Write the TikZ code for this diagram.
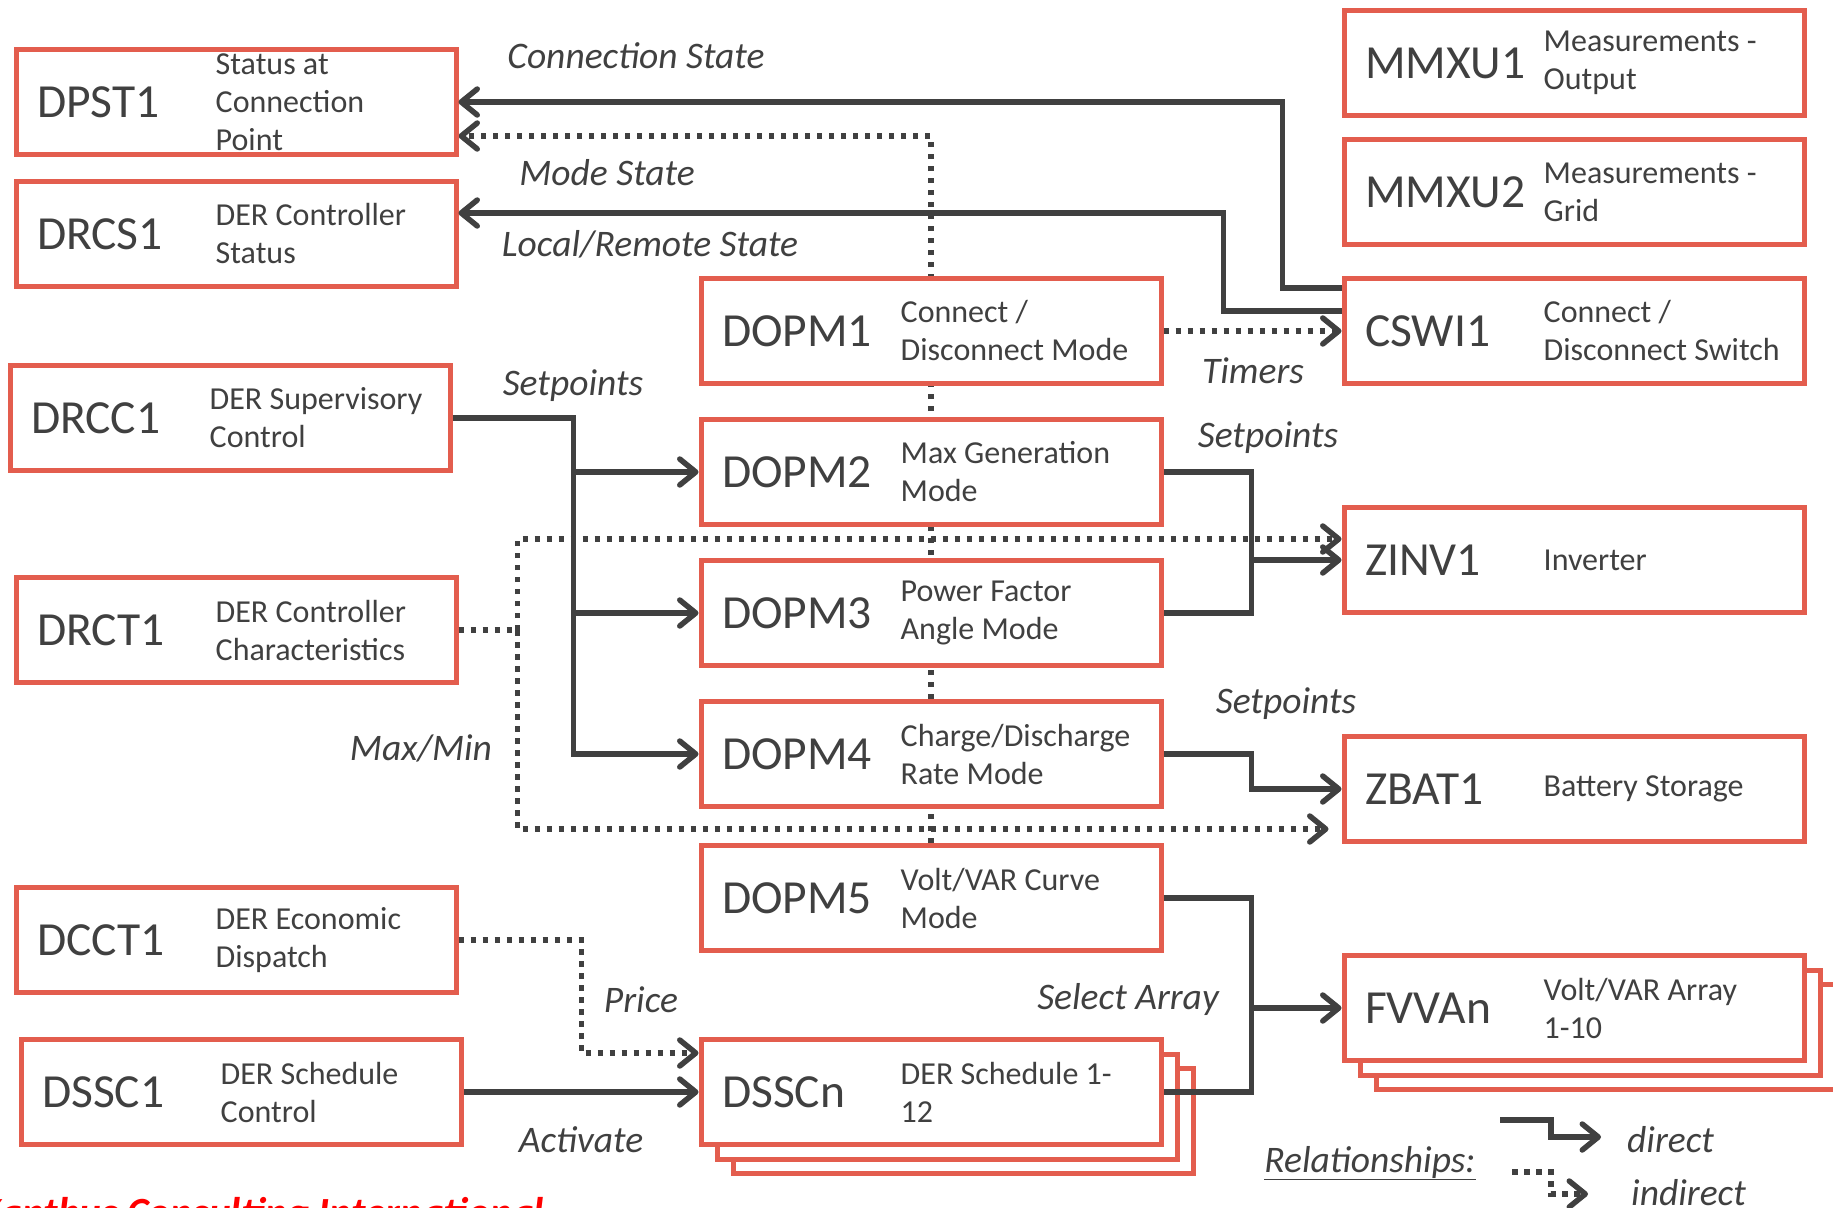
\documentclass[tikz,border=0pt]{standalone}
\usepackage{fontspec}
\setmainfont{Carlito}
\usetikzlibrary{arrows.meta,backgrounds,positioning}
\definecolor{lnred}{HTML}{E35D4E}
\definecolor{lngray}{HTML}{404040}

\begin{document}
\begin{tikzpicture}[x=1pt, y=-1pt,
			lnbox/.style={draw=lnred, line width=5pt, fill=white, minimum height=105pt,
					text width=#1, inner xsep=21pt, inner ysep=0pt, align=left, text=lngray,
					font=\fontsize{47.5pt}{56pt}\selectfont},
			lnbox/.default=398pt,
			desc/.style={anchor=west, inner sep=0pt, align=left, text=lngray,
					font=\fontsize{32pt}{38pt}\selectfont},
			lbl/.style={inner sep=0pt, text=lngray, text height=24pt, text depth=0pt,
					font=\fontsize{37.5pt}{44pt}\selectfont\itshape},
			direct/.style={draw=lngray, line width=5.5pt},
			indirect/.style={direct, dash pattern=on 5.5pt off 6.5pt},
			>={Straight Barb[length=16pt, width=26pt, round]}]
		\useasboundingbox (0,0) rectangle (1833,1207);

		% left column
		\node (dpst) [lnbox] at (236,102) {DPST1};
		\node [desc] at ([xshift=202pt]dpst.west) {Status at\\Connection\\Point};
		\node (drcs) [lnbox, below=22pt of dpst] {DRCS1};
		\node [desc] at ([xshift=202pt]drcs.west) {DER Controller\\Status};
		\node (drcc) [lnbox] at (230,418) {DRCC1};
		\node [desc] at ([xshift=202pt]drcc.west) {DER Supervisory\\Control};
		\node (drct) [lnbox] at (236,630) {DRCT1};
		\node [desc] at ([xshift=202pt]drct.west) {DER Controller\\Characteristics};
		\node (dcct) [lnbox] at (236,940) {DCCT1};
		\node [desc] at ([xshift=202pt]dcct.west) {DER Economic\\Dispatch};
		\node (dssc) [lnbox] at (241,1092) {DSSC1};
		\node [desc] at ([xshift=202pt]dssc.west) {DER Schedule\\Control};

		% middle column
		\node (dopm1) [lnbox=418pt] at (931,331) {DOPM1};
		\node [desc] at ([xshift=202pt]dopm1.west) {Connect /\\Disconnect Mode};
		\node (dopm2) [lnbox=418pt, below=31pt of dopm1] {DOPM2};
		\node [desc] at ([xshift=202pt]dopm2.west) {Max Generation\\Mode};
		\node (dopm3) [lnbox=418pt, below=31pt of dopm2] {DOPM3};
		\node [desc] at ([xshift=202pt]dopm3.west) {Power Factor\\Angle Mode};
		\node (dopm4) [lnbox=418pt, below=31pt of dopm3] {DOPM4};
		\node [desc] at ([xshift=202pt]dopm4.west) {Charge/Discharge\\Rate Mode};
		\node (dopm5) [lnbox=418pt, below=34pt of dopm4] {DOPM5};
		\node [desc] at ([xshift=202pt]dopm5.west) {Volt/VAR Curve\\Mode};
		\node (dsscnc) [lnbox=418pt] at (963,1121) {};
		\node (dsscnb) [lnbox=418pt] at (947,1107) {};
		\node (dsscn) [lnbox=418pt] at (931,1092) {DSSCn};
		\node [desc] at ([xshift=202pt]dsscn.west) {DER Schedule 1-\\12};

		% right column
		\node (mmxu1) [lnbox=418pt] at (1574,63) {MMXU1};
		\node [desc] at ([xshift=202pt]mmxu1.west) {Measurements -\\Output};
		\node (mmxu2) [lnbox=418pt, below=19pt of mmxu1] {MMXU2};
		\node [desc] at ([xshift=202pt]mmxu2.west) {Measurements -\\Grid};
		\node (cswi) [lnbox=418pt, below=29pt of mmxu2] {CSWI1};
		\node [desc] at ([xshift=202pt]cswi.west) {Connect /\\Disconnect Switch};
		\node (zinv) [lnbox=418pt] at (1574,560) {ZINV1};
		\node [desc] at ([xshift=202pt]zinv.west) {Inverter};
		\node (zbat) [lnbox=418pt, below=119pt of zinv] {ZBAT1};
		\node [desc] at ([xshift=202pt]zbat.west) {Battery Storage};
		\node (fvvac) [lnbox=418pt] at (1606,1037) {};
		\node (fvvab) [lnbox=418pt] at (1590,1023) {};
		\node (fvva) [lnbox=418pt] at (1574,1008) {FVVAn};
		\node [desc] at ([xshift=202pt]fvva.west) {Volt/VAR Array\\1-10};

		% connectors
		\begin{scope}[on background layer]
			\draw [indirect, ->] (dopm5.north) |- ([yshift=-34pt]dpst.east);
		\end{scope}
		\draw [direct, ->] ([yshift=43pt]cswi.west) -- ++(-59,0) |- (dpst.east);
		\draw [direct, ->] ([yshift=20pt]cswi.west) -- ++(-118,0) |- ([yshift=21pt]drcs.east);
		\draw [indirect, ->] (dopm1.east) -- (cswi.west);

		\draw [direct, ->] (drcc.east) -- ++(121,0) coordinate (spbus) |- (dopm2.west);
		\draw [direct, ->] (spbus) |- (dopm3.west);
		\draw [direct, ->] (spbus) |- (dopm4.west);

		\draw [indirect] (drct.east) -- ++(59,0) coordinate (mmbus);
		\draw [indirect, ->] (mmbus) |- ([yshift=21pt]zinv.west);
		\draw [indirect, ->] (mmbus) |- ([xshift=-13pt, yshift=-40pt]zbat.west);

		\draw [direct] (dopm2.east) -- ++(88,0) coordinate (zbus) |- (dopm3.east);
		\draw [direct, ->] (zbus |- zinv.west) -- (zinv.west);
		\draw [direct, ->] (dopm4.east) -- ++(88,0) |- (zbat.west);
		\draw [direct] (dopm5.east) -- ++(88,0) coordinate (fbus) |- (dsscn.east);
		\draw [direct, ->] (fbus |- fvva.west) -- (fvva.west);

		\draw [indirect, ->] (dcct.east) -- ++(123,0) |- ([yshift=39pt]dsscn.west);
		\draw [direct, ->] (dssc.east) -- (dsscn.west);

		% labels
		\node (lblconn) [lbl] at (636,57) {Connection State};
		\node (lblmode) [lbl] at (607,173) {Mode State};
		\node (lblloc) [lbl] at (650,244) {Local/Remote State};
		\node (lblspa) [lbl] at (573,383) {Setpoints};
		\node (lbltim) [lbl] at (1253,371) {Timers};
		\node (lblspb) [lbl] at (1268,435) {Setpoints};
		\node (lblmm) [lbl] at (421,748) {Max/Min};
		\node (lblspc) [lbl] at (1286,701) {Setpoints};
		\node (lblsel) [lbl] at (1128,997) {Select Array};
		\node (lblprice) [lbl] at (641,1000) {Price};
		\node (lblact) [lbl] at (581,1140) {Activate};

		% legend
		\node (rel) [lbl] at (1370,1160) {\underline{Relationships:}};
		\coordinate (dira) at (1500,1120);
		\coordinate (dirb) at (1601,1137);
		\draw [direct, ->] (dira) -- ++(51,0) |- (dirb);
		\node (dir) [lbl, anchor=west] at (1627,1140) {direct};
		\coordinate (inda) at (1512,1172);
		\coordinate (indb) at (1588,1194);
		\draw [indirect, ->] (inda) -- ++(39,0) |- (indb);
		\node (ind) [lbl, anchor=west] at (1631,1193) {indirect};

		\node (credit) [anchor=north west, inner sep=0pt, text=red,
			font=\fontsize{41.5pt}{50pt}\selectfont\bfseries\itshape] at (-22,1197) {Xanthus Consulting International};
	\end{tikzpicture}
\end{document}
